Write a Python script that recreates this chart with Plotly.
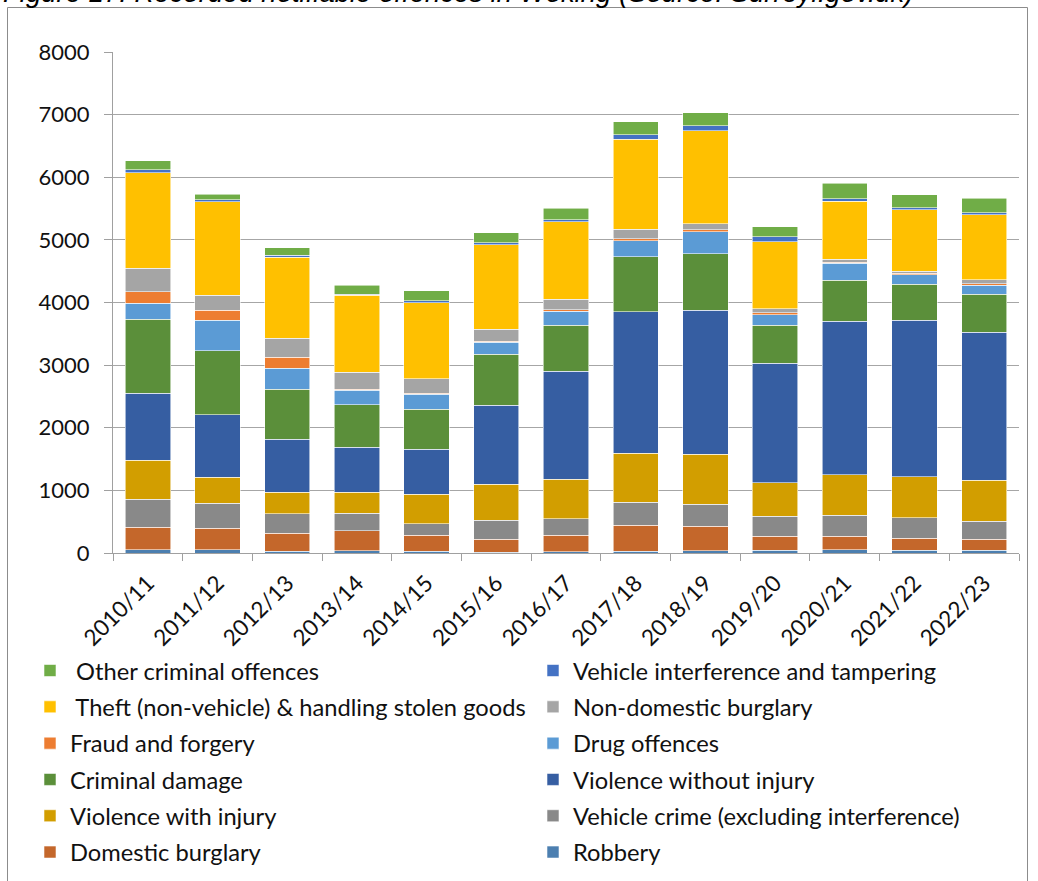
import plotly.graph_objects as go

years = ["2010/11", "2011/12", "2012/13", "2013/14", "2014/15", "2015/16", "2016/17",
         "2017/18", "2018/19", "2019/20", "2020/21", "2021/22", "2022/23"]

# Offence counts per year, listed in stacking order (bottom to top)
robbery = [53, 48, 27, 37, 27, 15, 20, 32, 37, 43, 53, 43, 43]
domestic_burglary = [362, 351, 292, 319, 260, 208, 267, 409, 389, 223, 213, 196, 180]
vehicle_crime = [447, 399, 309, 282, 181, 304, 261, 368, 356, 319, 335, 320, 288]
violence_with_injury = [617, 415, 346, 336, 468, 569, 633, 787, 798, 537, 649, 659, 649]
violence_without_injury = [1074, 995, 845, 712, 724, 1266, 1724, 2260, 2293, 1905, 2447, 2495, 2367]
criminal_damage = [1181, 1021, 798, 681, 638, 814, 729, 878, 909, 606, 655, 575, 601]
drug_offences = [256, 484, 330, 229, 240, 186, 223, 250, 351, 170, 271, 154, 149]
fraud_forgery = [181, 165, 181, 16, 10, 16, 26, 37, 32, 32, 21, 27, 22]
non_domestic_burglary = [378, 234, 298, 271, 234, 197, 165, 149, 96, 69, 43, 32, 63]
theft = [1526, 1495, 1293, 1229, 1218, 1346, 1245, 1436, 1484, 1070, 931, 984, 1043]
vehicle_interference = [48, 32, 32, 22, 27, 37, 32, 75, 74, 74, 37, 32, 32]
other_criminal = [144, 91, 127, 143, 159, 155, 181, 202, 213, 165, 250, 207, 224]

series = [
    ("Robbery", robbery, "#4C7FB0", "legend2"),
    ("Domestic burglary", domestic_burglary, "#C4672B", "legend"),
    ("Vehicle crime (excluding interference)", vehicle_crime, "#898989", "legend2"),
    ("Violence with injury", violence_with_injury, "#D29E00", "legend"),
    ("Violence without injury", violence_without_injury, "#365EA2", "legend2"),
    ("Criminal damage", criminal_damage, "#5B8F3A", "legend"),
    ("Drug offences", drug_offences, "#5B9BD5", "legend2"),
    ("Fraud and forgery", fraud_forgery, "#ED7D31", "legend"),
    ("Non-domestic burglary", non_domestic_burglary, "#A5A5A5", "legend2"),
    ("\u00a0Theft (non-vehicle) & handling stolen goods", theft, "#FFC000", "legend"),
    ("Vehicle interference and tampering", vehicle_interference, "#4472C4", "legend2"),
    ("\u00a0Other criminal offences", other_criminal, "#70AD47", "legend"),
]

FONT = "Lato, 'Open Sans', sans-serif"
W, H = 1038, 881
L, R, T, B = 113, 19, 52, 328
PW, PH = W - L - R, H - T - B


def px_x(px):
    return (px - L) / PW


def px_y(py):
    return (H - B - py) / PH


fig = go.Figure()
for i, (name, vals, color, leg) in enumerate(series):
    fig.add_trace(go.Bar(
        x=years, y=vals, name=name, legend=leg, legendgroup=f"g{i}",
        legendrank=100 - i,
        marker=dict(color=color, line=dict(color="rgba(255,255,255,0.7)", width=0.8)),
    ))

legend_common = dict(
    orientation="v", traceorder="grouped", tracegroupgap=2.5,
    font=dict(family=FONT, size=23.7, color="#111111"),
    bgcolor="rgba(0,0,0,0)", yanchor="top", xanchor="left",
)

fig.update_layout(
    width=W, height=H,
    margin=dict(l=L, r=R, t=T, b=B, autoexpand=False),
    paper_bgcolor="white", plot_bgcolor="white",
    barmode="stack", bargap=0.35,
    font=dict(family=FONT, size=22, color="#111111"),
    legend=dict(x=px_x(30), y=px_y(648.6), **legend_common),
    legend2=dict(x=px_x(533), y=px_y(648.6), **legend_common),
    xaxis=dict(
        type="category", tickangle=-45, ticks="outside", tickson="boundaries",
        ticklen=7, tickcolor="#a0a0a0", showline=True, linecolor="#a0a0a0",
        linewidth=1, showgrid=False, ticklabelstandoff=7, automargin=False,
        tickfont=dict(family=FONT, size=22.5, color="#111111"),
    ),
    yaxis=dict(
        range=[0, 8000], dtick=1000, ticks="outside", ticklen=8, tickcolor="#a0a0a0",
        showline=True, linecolor="#a0a0a0", linewidth=1, showgrid=True,
        gridcolor="#a6a6a6", gridwidth=1, zeroline=False, ticklabelstandoff=10,
        automargin=False, tickfont=dict(family=FONT, size=22, color="#111111"),
    ),
    shapes=[dict(
        type="rect", xref="paper", yref="paper",
        x0=px_x(7.5), x1=px_x(1027.5), y0=px_y(900), y1=px_y(7.5),
        line=dict(color="#8c8c8c", width=1), fillcolor="rgba(0,0,0,0)", layer="below",
    )],
    annotations=[dict(
        text="<i>Figure 17: Recorded notifiable offences in Woking (Source: Surreyi.gov.uk)</i>",
        xref="paper", yref="paper", x=px_x(1), y=px_y(10), xanchor="left", yanchor="bottom",
        showarrow=False, font=dict(family="Liberation Sans, Arial, sans-serif", size=27.5, color="#000000"),
    )],
)

fig.write_html("out.html")
